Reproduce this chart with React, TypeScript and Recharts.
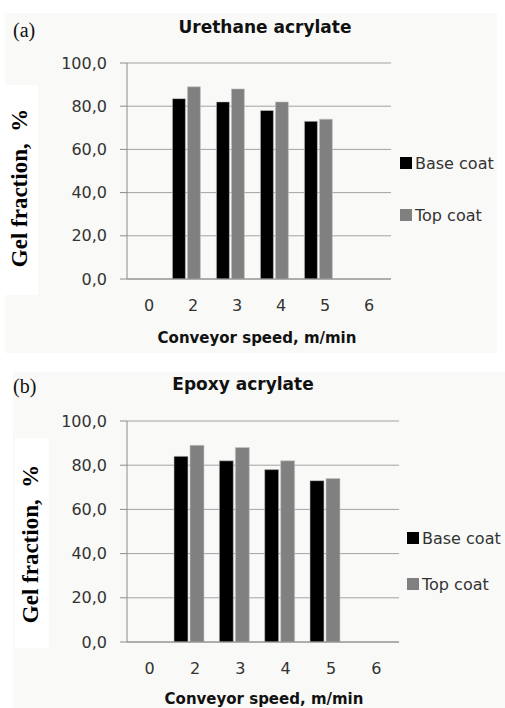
import { BarChart, Bar, XAxis, YAxis, CartesianGrid, Legend } from "recharts"

const speeds = ["0", "2", "3", "4", "5", "6"]
const urethaneBase = [null, 83.5, 82, 78, 73, null]
const urethaneTop = [null, 89, 88, 82, 74, null]
const epoxyBase = [null, 84, 82, 78, 73, null]
const epoxyTop = [null, 89, 88, 82, 74, null]
const yTicks = [0, 20, 40, 60, 80, 100]

const sans = "'DejaVu Sans', sans-serif"
const serif = "'Liberation Serif', 'Times New Roman', serif"
const bg = "#f9f9f7"
const X_AXIS_H = 30

const fmt = (v: number) => v.toFixed(1).replace(".", ",")

function buildRows(base: (number | null)[], top: (number | null)[]) {
  return speeds.map((s, i) => ({ speed: s, base: base[i], top: top[i] }))
}

function LegendBox(props: any) {
  const { payload, gap } = props
  return (
    <div style={{ fontFamily: sans, fontSize: 16, color: "#333" }}>
      {(payload || []).map((p: any, i: number) => (
        <div key={p.value} style={{ display: "flex", alignItems: "center", height: 20, marginTop: i === 0 ? 0 : gap - 20 }}>
          <span style={{ width: 12, height: 12, background: p.color, marginRight: 3, display: "inline-block" }} />
          <span>{p.value}</span>
        </div>
      ))}
    </div>
  )
}

type PanelProps = {
  base: (number | null)[]
  top: (number | null)[]
  y0: number
  height: number
  plotTop: number
  plotBottom: number
  plotRight: number
  legendX: number
  legendY: number
  legendGap: number
}

function Panel(p: PanelProps) {
  const data = buildRows(p.base, p.top)
  const pb = p.plotBottom - p.y0
  return (
    <div style={{ position: "absolute", left: 0, top: p.y0, width: 505, height: p.height }}>
      <BarChart
        width={505}
        height={p.height}
        data={data}
        margin={{ top: p.plotTop - p.y0, right: 505 - p.plotRight, bottom: p.height - pb - X_AXIS_H, left: 0 }}
        barCategoryGap="18%"
        barGap={2}
      >
        <CartesianGrid vertical={false} stroke="#a3a3a3" />
        <XAxis
          dataKey="speed"
          tickLine={false}
          tickSize={0}
          tickMargin={21}
          axisLine={{ stroke: "#8c8c8c" }}
          tick={{ fill: "#333", fontSize: 16, fontFamily: sans }}
          height={X_AXIS_H}
        />
        <XAxis xAxisId="bars" dataKey="speed" hide height={0} padding={{ left: -6.5, right: 6.5 }} />
        <YAxis
          domain={[0, 100]}
          ticks={yTicks}
          width={127}
          tickSize={7}
          tickMargin={13}
          tickFormatter={fmt}
          axisLine={{ stroke: "#8c8c8c" }}
          tickLine={{ stroke: "#8c8c8c" }}
          tick={{ fill: "#333", fontSize: 16, fontFamily: sans }}
        />
        <Legend
          layout="vertical"
          align="center"
          verticalAlign="middle"
          wrapperStyle={{ left: p.legendX, top: p.legendY - p.y0, width: 110 }}
          content={(lp: any) => <LegendBox {...lp} gap={p.legendGap} />}
        />
        <Bar xAxisId="bars" dataKey="base" name="Base coat" fill="#000000" stroke="#c8c8c8" strokeWidth={0.6} isAnimationActive={false} />
        <Bar xAxisId="bars" dataKey="top" name="Top coat" fill="#808080" stroke="#c8c8c8" strokeWidth={0.6} isAnimationActive={false} />
      </BarChart>
    </div>
  )
}

function Text(props: { x: number; y: number; size: number; bold?: boolean; font: string; children: string; center?: boolean }) {
  const { x, y, size, bold, font, children, center } = props
  return (
    <div
      style={{
        position: "absolute",
        left: center ? x - 200 : x,
        top: y,
        width: center ? 400 : undefined,
        textAlign: center ? "center" : "left",
        fontFamily: font,
        fontSize: size,
        fontWeight: bold ? "bold" : "normal",
        lineHeight: `${size}px`,
        whiteSpace: "nowrap",
        color: "#111",
      }}
    >
      {children}
    </div>
  )
}

function YLabel({ cx, cy }: { cx: number; cy: number }) {
  return (
    <div
      style={{
        position: "absolute",
        left: cx - 100,
        top: cy - 12,
        width: 200,
        height: 24,
        lineHeight: "24px",
        textAlign: "center",
        transform: "rotate(-90deg)",
        fontFamily: serif,
        fontWeight: "bold",
        fontSize: 23,
        color: "#000",
        whiteSpace: "pre",
      }}
    >
      {"Gel fraction,  %"}
    </div>
  )
}

export default function App() {
  return (
    <div style={{ position: "absolute", left: 0, top: 0, width: 505, height: 708, background: "#fff", overflow: "hidden" }}>
      <div style={{ position: "absolute", left: 5, top: 13, width: 492, height: 340, background: bg }} />
      <div style={{ position: "absolute", left: 13, top: 372, width: 492, height: 336, background: bg }} />
      <div style={{ position: "absolute", left: 4, top: 85, width: 34, height: 210, background: "#fff" }} />
      <div style={{ position: "absolute", left: 15, top: 438, width: 34, height: 210, background: "#fff" }} />

      <Panel
        base={urethaneBase}
        top={urethaneTop}
        y0={0}
        height={355}
        plotTop={63}
        plotBottom={279}
        plotRight={391}
        legendX={400}
        legendY={153}
        legendGap={52}
      />
      <Panel
        base={epoxyBase}
        top={epoxyTop}
        y0={360}
        height={348}
        plotTop={421}
        plotBottom={642}
        plotRight={399}
        legendX={407}
        legendY={528}
        legendGap={46}
      />

      <Text x={13} y={20} size={20} font={serif}>(a)</Text>
      <Text x={265} y={19} size={17} bold center font={sans}>Urethane acrylate</Text>
      <Text x={257} y={331} size={15} bold center font={sans}>Conveyor speed, m/min</Text>
      <YLabel cx={20} cy={188} />

      <Text x={13} y={376} size={20} font={serif}>(b)</Text>
      <Text x={243} y={376} size={17} bold center font={sans}>Epoxy acrylate</Text>
      <Text x={264} y={692} size={15} bold center font={sans}>Conveyor speed, m/min</Text>
      <YLabel cx={31} cy={544} />
    </div>
  )
}
